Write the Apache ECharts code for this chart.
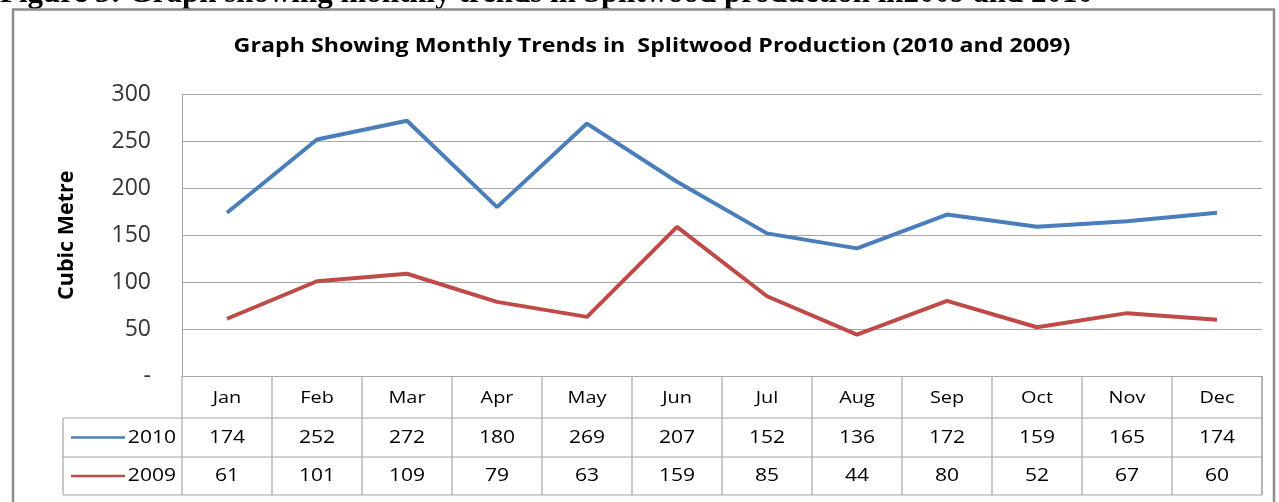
<!DOCTYPE html>
<html><head><meta charset="utf-8">
<script src="https://cdn.jsdelivr.net/npm/echarts@6/dist/echarts.min.js"></script>
<style>html,body{margin:0;padding:0;background:#fff}#c{width:1279px;height:502px}</style>
</head><body><div id="c"></div>
<script>
const months = ['Jan','Feb','Mar','Apr','May','Jun','Jul','Aug','Sep','Oct','Nov','Dec'];
const s2010 = [174,252,272,180,269,207,152,136,172,159,165,174];
const s2009 = [61,101,109,79,63,159,85,44,80,52,67,60];
const yTicks = [0,50,100,150,200,250,300];
const seriesNames = ['2010','2009'];
const colors = ['#4a7ebb','#be4b48'];
const FONT = '"Open Sans", Lato, sans-serif';
const GRID = '#a6a6a6';

const chart = echarts.init(document.getElementById('c'), null, {renderer:'canvas'});
const gridTop = 94.5, gridBottom = 502-376, gridLeft = 182, gridRight = 1279-1262;
chart.setOption({
  animation:false,
  grid:{left:gridLeft, right:gridRight, top:gridTop, bottom:gridBottom},
  xAxis:{type:'category', data:months, boundaryGap:true,
    axisLine:{show:true, lineStyle:{color:GRID,width:1}}, axisTick:{show:false}, axisLabel:{show:false}},
  yAxis:{type:'value', min:yTicks[0], max:yTicks[yTicks.length-1], interval:50,
    name:'Cubic Metre', nameLocation:'middle', nameGap:104, nameRotate:90,
    nameTextStyle:{fontFamily:FONT, fontWeight:'bold', fontSize:21.5, color:'#000'},
    axisLine:{show:true, lineStyle:{color:GRID,width:1}}, axisTick:{show:false},
    axisLabel:{margin:31, fontFamily:FONT, fontSize:23, color:'#333', formatter:v=> v===0?'-':String(v)},
    splitLine:{lineStyle:{color:GRID,width:1}}},
  series:[
    {name:seriesNames[0], type:'line', data:s2010, symbol:'none', lineStyle:{color:colors[0], width:4}},
    {name:seriesNames[1], type:'line', data:s2009, symbol:'none', lineStyle:{color:colors[1], width:4}}
  ]
});

// Build table + decorations from axis positions
const g = [];
const xs = months.map((m,i)=>chart.convertToPixel({xAxisIndex:0}, i));
const cw = xs.length>1 ? xs[1]-xs[0] : 90;
const left = xs[0]-cw/2, right = xs[xs.length-1]+cw/2;
const y0 = chart.convertToPixel({yAxisIndex:0}, 0);
const rowH = [42, 39, 38];
const r1 = y0+rowH[0], r2 = r1+rowH[1], r3 = r2+rowH[2];
const legL = 63;
const line = (x1,y1,x2,y2,c,w)=>g.push({type:'line', shape:{x1,y1,x2,y2}, style:{stroke:c||GRID, lineWidth:w||1.2}, silent:true});
const text = (x,y,t,opt,sx)=>g.push({type:'text', x, y, scaleX:sx||1, style:Object.assign({text:t, fontFamily:FONT, fontSize:17, fill:'#000', align:'center', verticalAlign:'middle'}, opt||{}), silent:true});

// header caption (cropped)
text(0, -6, 'Figure 5: Graph showing monthly trends in Splitwood production in2009 and 2010', {align:'left', fontFamily:'"Liberation Serif", serif', fontWeight:'bold', fontSize:31, fill:'#000'});
// chart frame
g.push({type:'rect', shape:{x:13, y:9.5, width:1261, height:520}, style:{fill:null, stroke:'#8c8c8c', lineWidth:2.5}, silent:true});
// title
text(652, 46, 'Graph Showing Monthly Trends in  Splitwood Production (2010 and 2009)', {fontWeight:'bold', fontSize:19.5}, 1.19);

// table grid
for (let i=0;i<=months.length;i++){ const x=left+i*cw; line(x, y0, x, r3); }
line(right, y0, right, r3);
line(legL, r1, right, r1); line(legL, r2, right, r2); line(legL, r3, right, r3);
line(legL, r1, legL, r3);
const TS = 1.17;
months.forEach((m,i)=>{
  text(xs[i], (y0+r1)/2+1, m, null, TS);
  text(xs[i], (r1+r2)/2, String(s2010[i]), {fontSize:18}, TS);
  text(xs[i], (r2+r3)/2, String(s2009[i]), {fontSize:18}, TS);
});
[[r1,r2],[r2,r3]].forEach(([a,b],k)=>{
  const yc=(a+b)/2;
  line(71, yc, 125, yc, colors[k], 2.5);
  text(176, yc, seriesNames[k], {align:'right', fontSize:18}, TS);
});
chart.setOption({graphic:g});
</script></body></html>
